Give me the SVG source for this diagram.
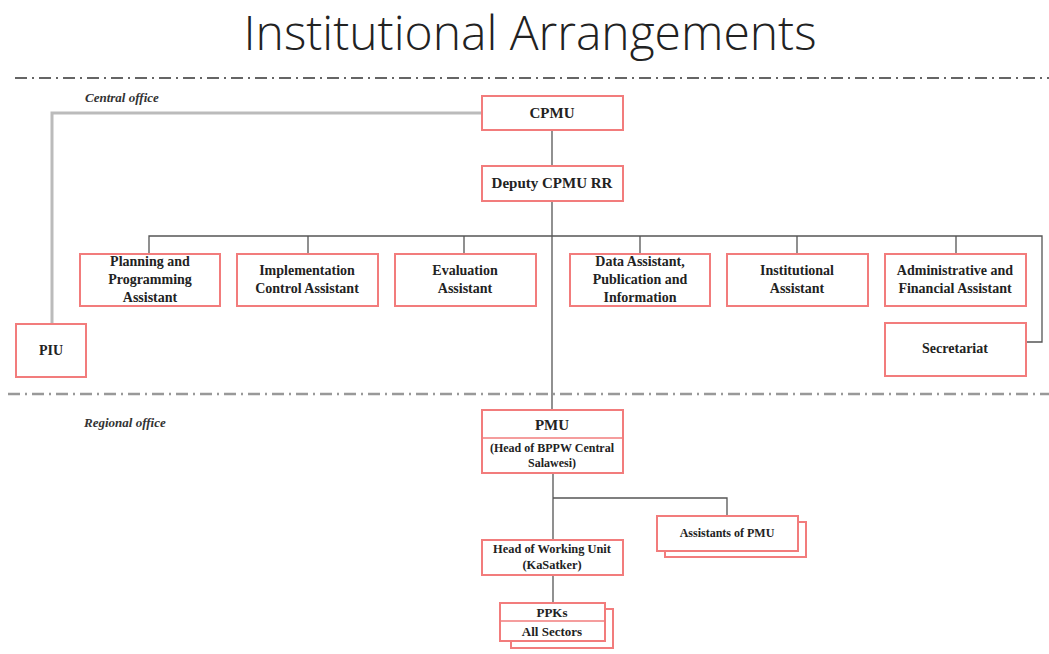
<svg xmlns="http://www.w3.org/2000/svg" width="1049" height="654" viewBox="0 0 1049 654">
<style>
.box{fill:#fff;stroke:#f27c7c;stroke-width:2}
.t{font-family:"Liberation Serif",serif;font-weight:bold;fill:#222;text-anchor:middle}
.lbl{font-family:"Liberation Serif",serif;font-weight:bold;font-style:italic;fill:#333;font-size:13px}
.c{fill:none;stroke:#555;stroke-width:1.3}
</style>
<rect width="1049" height="654" fill="#fff"/>
<text x="530" y="50" font-family="'Open Sans',sans-serif" font-weight="300" font-size="48" fill="#222" text-anchor="middle">Institutional Arrangements</text>
<line x1="15" y1="78" x2="1049" y2="78" stroke="#333" stroke-width="1.5" stroke-dasharray="12 5 2 5"/>
<line x1="8" y1="394" x2="1049" y2="394" stroke="#999" stroke-width="2.5" stroke-dasharray="12 5 2 5"/>
<text class="lbl" x="85" y="102">Central office</text>
<text class="lbl" x="84" y="427">Regional office</text>
<g id="connectors">
<path d="M482 113 H52 V324" fill="none" stroke="#bbb" stroke-width="3"/>
<path class="c" d="M552 130 V166"/>
<path class="c" d="M552 201 V410"/>
<path class="c" d="M149 253 V236 H1042 V342 H1026"/>
<path class="c" d="M308 236 V253 M464 236 V253 M640 236 V253 M797 236 V253 M956 236 V253"/>
<path class="c" d="M553 473 V540 M553 498 H727 V516"/>
<path class="c" d="M553 575 V603"/>
</g>
<g id="cpmu"><rect class="box" x="482" y="96" width="141" height="34"/><text class="t" x="552" y="118" font-size="15">CPMU</text></g>
<g id="deputy"><rect class="box" x="482" y="166" width="141" height="35"/><text class="t" x="552" y="188" font-size="15">Deputy CPMU RR</text></g>
<g id="piu"><rect class="box" x="16" y="324" width="70" height="53"/><text class="t" x="51" y="355" font-size="14">PIU</text></g>
<g id="planning"><rect class="box" x="80" y="254" width="140" height="52"/><text class="t" font-size="14"><tspan x="150" y="266">Planning and</tspan><tspan x="150" y="284">Programming</tspan><tspan x="150" y="302">Assistant</tspan></text></g>
<g id="implementation"><rect class="box" x="237" y="254" width="141" height="52"/><text class="t" font-size="14"><tspan x="307" y="275">Implementation</tspan><tspan x="307" y="293">Control Assistant</tspan></text></g>
<g id="evaluation"><rect class="box" x="395" y="254" width="141" height="52"/><text class="t" font-size="14"><tspan x="465" y="275">Evaluation</tspan><tspan x="465" y="293">Assistant</tspan></text></g>
<g id="data"><rect class="box" x="570" y="254" width="140" height="52"/><text class="t" font-size="14"><tspan x="640" y="266">Data Assistant,</tspan><tspan x="640" y="284">Publication and</tspan><tspan x="640" y="302">Information</tspan></text></g>
<g id="institutional"><rect class="box" x="727" y="254" width="141" height="52"/><text class="t" font-size="14"><tspan x="797" y="275">Institutional</tspan><tspan x="797" y="293">Assistant</tspan></text></g>
<g id="administrative"><rect class="box" x="885" y="254" width="141" height="52"/><text class="t" font-size="14"><tspan x="955" y="275">Administrative and</tspan><tspan x="955" y="293">Financial Assistant</tspan></text></g>
<g id="secretariat"><rect class="box" x="885" y="323" width="141" height="53"/><text class="t" x="955" y="353" font-size="14">Secretariat</text></g>
<g id="pmu"><rect class="box" x="482" y="410" width="141" height="63"/><line x1="482" y1="438" x2="623" y2="438" stroke="#f27c7c" stroke-width="1.5"/><text class="t" x="552" y="430" font-size="15">PMU</text><text class="t" font-size="12"><tspan x="552" y="452">(Head of BPPW Central</tspan><tspan x="552" y="467">Salawesi)</tspan></text></g>
<g id="assistants"><rect class="box" x="665" y="522" width="141" height="35"/><rect class="box" x="657" y="516" width="141" height="35"/><text class="t" x="727" y="537" font-size="12">Assistants of PMU</text></g>
<g id="head"><rect class="box" x="482" y="540" width="141" height="35"/><text class="t" font-size="12.4"><tspan x="552" y="553">Head of Working Unit</tspan><tspan x="552" y="569">(KaSatker)</tspan></text></g>
<g id="ppks"><rect class="box" x="511" y="609" width="102" height="39"/><rect class="box" x="500" y="603" width="105" height="38"/><line x1="500" y1="621" x2="605" y2="621" stroke="#f27c7c" stroke-width="1.5"/><text class="t" x="552" y="617" font-size="13">PPKs</text><text class="t" x="552" y="636" font-size="13">All Sectors</text></g>
</svg>
